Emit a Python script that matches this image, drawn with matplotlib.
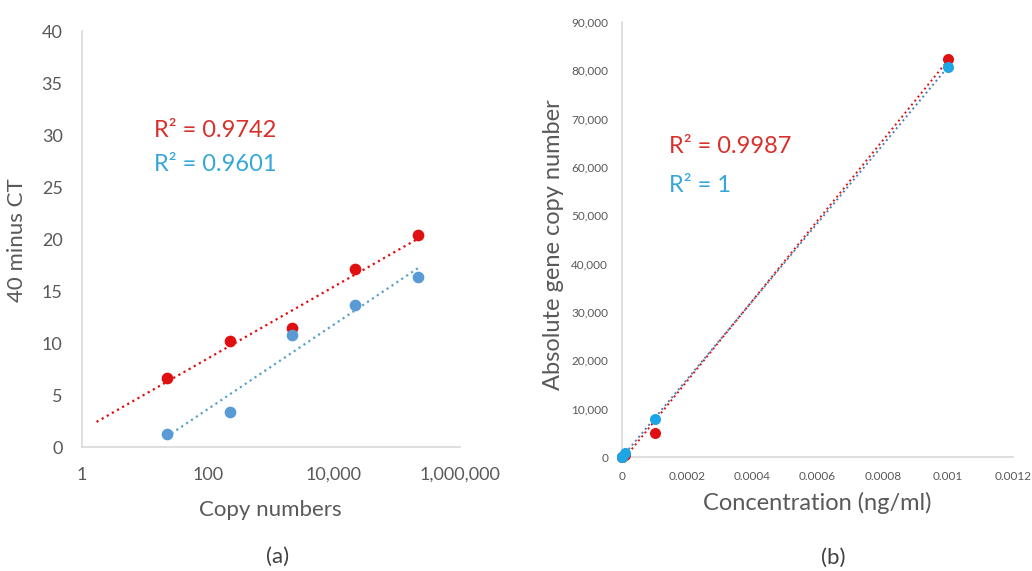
import numpy as np
import matplotlib
matplotlib.use("Agg")
import matplotlib.pyplot as plt
from matplotlib.ticker import FuncFormatter, FixedLocator

plt.rcParams['font.family'] = ['Lato', 'DejaVu Sans']

# (a) 40 minus CT against copy numbers
copies = [22, 220, 2200, 22000, 220000]
ct_red = [6.6, 10.2, 11.5, 17.1, 20.4]
ct_blue = [1.25, 3.4, 10.8, 13.7, 16.4]
r2_a = ["0.9742", "0.9601"]
copy_ticks = [1, 100, 10000, 1000000]

# (b) absolute gene copy number against concentration
conc = [1e-7, 1e-6, 1e-5, 1e-4, 1e-3]
abs_red = [6, 55, 520, 5000, 82300]
abs_blue = [8.1, 81, 807, 7900, 80700]
r2_b = ["0.9987", "1"]
conc_ticks = [0, 0.0002, 0.0004, 0.0006, 0.0008, 0.001, 0.0012]
abs_ticks = list(range(0, 90001, 10000))

RED = "#e01010"
RED_TXT = "#d9302c"
BLUE_A = "#5b9bd5"
BLUE_B = "#1ea5e6"
BLUE_TXT = "#35a7d8"
GREY = "#595959"
AXIS = "#d9d9d9"

fig = plt.figure(figsize=(10.32, 5.71), dpi=100)
ax1 = fig.add_axes([0.0795, 0.217, 0.366, 0.7285])
ax2 = fig.add_axes([0.6027, 0.1996, 0.379, 0.762])


def style(ax):
    for s in ("top", "right"):
        ax.spines[s].set_visible(False)
    for s in ("left", "bottom"):
        ax.spines[s].set_color(AXIS)
        ax.spines[s].set_linewidth(1.2)
    ax.tick_params(length=0, colors=GREY)


# --- panel (a)
style(ax1)
ax1.set_xscale("log")
ax1.set_xlim(1, 1e6)
ax1.set_ylim(0, 40)
ax1.xaxis.set_major_locator(FixedLocator(copy_ticks))
ax1.xaxis.set_minor_locator(FixedLocator([]))
ax1.xaxis.set_major_formatter(FuncFormatter(lambda v, p: f"{int(round(v)):,}"))
ax1.set_yticks(range(0, 41, 5))
ax1.tick_params(labelsize=13, pad=14)

lx = np.log10(copies)
red_fit = np.polyfit(lx, ct_red, 1)
blue_fit = np.polyfit(lx, ct_blue, 1)
xr = np.linspace(np.log10(1.7), lx[-1], 50)
xb = np.linspace(lx[0], lx[-1], 50)
ax1.plot(10 ** xr, np.polyval(red_fit, xr), ":", color=RED, lw=1.6)
ax1.plot(10 ** xb, np.polyval(blue_fit, xb), ":", color="#5ba3c9", lw=1.6)
ax1.scatter(copies, ct_red, s=55, color=RED, zorder=3)
ax1.scatter(copies, ct_blue, s=55, color=BLUE_A, zorder=3)
ax1.text(0.19, 0.762, f"R² = {r2_a[0]}", transform=ax1.transAxes, color=RED_TXT,
         fontsize=17, va="center")
ax1.text(0.19, 0.68, f"R² = {r2_a[1]}", transform=ax1.transAxes, color=BLUE_TXT,
         fontsize=17, va="center")

# --- panel (b)
style(ax2)
ax2.set_xlim(0, 0.0012)
ax2.set_ylim(0, 90000)
ax2.set_xticks(conc_ticks)
ax2.set_xticklabels(["0" if t == 0 else f"{t:g}" for t in conc_ticks])
ax2.set_yticks(abs_ticks)
ax2.yaxis.set_major_formatter(FuncFormatter(lambda v, p: f"{int(v):,}"))
ax2.tick_params(labelsize=8.5, pad=10)

xl = np.linspace(0, conc[-1], 50)
ax2.plot(xl, np.polyval(np.polyfit(conc, abs_red, 1), xl), ":", color=RED, lw=1.4)
ax2.plot(xl, np.polyval(np.polyfit(conc, abs_blue, 1), xl), ":", color="#4a7fb0", lw=1.4)
ax2.scatter(conc, abs_red, s=48, color=RED, zorder=3, clip_on=False)
ax2.scatter(conc, abs_blue, s=48, color=BLUE_B, zorder=3, clip_on=False)
ax2.text(0.12, 0.713, f"R² = {r2_b[0]}", transform=ax2.transAxes, color=RED_TXT,
         fontsize=17, va="center")
ax2.text(0.12, 0.625, f"R² = {r2_b[1]}", transform=ax2.transAxes, color=BLUE_TXT,
         fontsize=17, va="center")

# axis titles and panel letters
fig.text(270 / 1032, 1 - 510 / 571, "Copy numbers", ha="center", va="center", fontsize=16, color=GREY)
fig.text(17 / 1032, 1 - 240 / 571, "40 minus CT", ha="center", va="center", rotation=90, fontsize=16, color=GREY)
fig.text(278 / 1032, 1 - 557 / 571, "(a)", ha="center", va="center", fontsize=16, color="#404040")
fig.text(817 / 1032, 1 - 503 / 571, "Concentration (ng/ml)", ha="center", va="center", fontsize=17, color=GREY)
fig.text(553 / 1032, 1 - 245 / 571, "Absolute gene copy number", ha="center", va="center", rotation=90, fontsize=17, color=GREY)
fig.text(833 / 1032, 1 - 558 / 571, "(b)", ha="center", va="center", fontsize=16, color="#404040")

fig.savefig("out.png", dpi=100)
